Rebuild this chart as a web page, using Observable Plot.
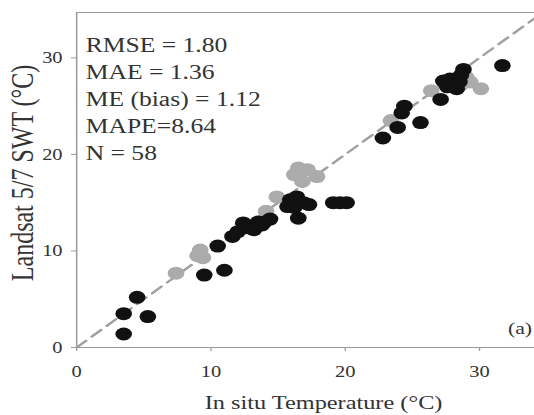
<!DOCTYPE html>
<html><head><meta charset="utf-8">
<script src="https://cdn.jsdelivr.net/npm/d3@7"></script>
<script src="https://cdn.jsdelivr.net/npm/@observablehq/plot@0.6"></script>
<style>
body{margin:0;background:#fff;overflow:hidden}
#chart svg{transform:scaleX(1.28);transform-origin:0 0;display:block;overflow:visible}
</style>
</head><body><div id="chart"></div>
<script>
// In situ temperature (x) vs Landsat SWT (y), black series
const blackX = [3.5, 3.5, 4.5, 5.3, 9.5, 11.0, 10.5, 11.6, 12.0, 12.4, 12.8, 13.2, 13.5, 13.8, 14.0, 14.4, 15.7, 15.9, 16.2, 16.4, 16.5, 16.9, 17.3, 19.1, 19.6, 20.1, 22.8, 23.9, 24.2, 24.4, 25.6, 27.1, 27.3, 27.6, 27.8, 28.0, 28.3, 28.5, 28.6, 28.8, 31.7];
const blackY = [1.4, 3.5, 5.2, 3.2, 7.5, 8.0, 10.5, 11.5, 12.0, 12.9, 12.4, 12.2, 13.0, 12.7, 13.0, 13.3, 14.6, 15.3, 14.5, 15.6, 13.4, 15.0, 14.8, 15.0, 15.0, 15.0, 21.7, 22.8, 24.3, 25.0, 23.3, 25.7, 27.6, 27.0, 27.8, 27.2, 26.8, 27.5, 28.2, 28.8, 29.2];
// grey series
const grayX = [7.4, 9.0, 9.2, 9.4, 14.1, 14.9, 16.2, 16.5, 16.8, 17.2, 17.9, 23.4, 26.4, 28.6, 29.0, 29.3, 30.1];
const grayY = [7.7, 9.5, 10.1, 9.3, 14.1, 15.6, 17.9, 18.6, 17.2, 18.4, 17.7, 23.5, 26.6, 27.2, 28.0, 27.5, 26.8];

const xTicks = [0, 10, 20, 30];
const yTicks = [0, 10, 20, 30];
const xDomain = [0, 34.1];
const yDomain = [0, 34.7];
const identityLine = [0, 35];
const stats = ["RMSE = 1.80", "MAE = 1.36", "ME (bias) = 1.12", "MAPE=8.64", "N = 58"];
const xLabel = "In situ Temperature (\u00B0C)";
const yLabel = "Landsat 5/7 SWT (\u00B0C)";
const panelLabel = "(a)";

const black = blackX.map((x, i) => ({x, y: blackY[i]}));
const gray = grayX.map((x, i) => ({x, y: grayY[i]}));

const font = "'Liberation Serif', 'Times New Roman', serif";
const txt = "#333";
const axisGray = "#9a9a9a";

const chart = Plot.plot({
  width: 417.2,
  height: 415,
  marginLeft: 59.4,
  marginRight: 0,
  marginTop: 12,
  marginBottom: 68,
  style: {fontFamily: font, fontSize: "16px", background: "#fff", color: txt},
  x: {domain: xDomain, axis: null},
  y: {domain: yDomain, axis: null},
  marks: [
    Plot.ruleX([xDomain[0]], {stroke: axisGray, strokeWidth: 1.2}),
    Plot.ruleY([yDomain[0]], {stroke: axisGray, strokeWidth: 1.2}),
    Plot.ruleY([yDomain[1]], {stroke: axisGray, strokeWidth: 1.2}),
    Plot.axisX({ticks: xTicks, tickSize: 4, tickPadding: 14, label: null, stroke: axisGray, fill: txt, fontSize: 16}),
    Plot.axisY({ticks: yTicks, tickSize: 4, tickPadding: 7, label: null, stroke: axisGray, fill: txt, fontSize: 16}),
    Plot.line(identityLine, {x: d => d, y: d => d, stroke: "#a0a0a0", strokeWidth: 2.2, strokeDasharray: "10,6", clip: true}),
    Plot.dot(gray, {x: "x", y: "y", r: 6.5, fill: "#ababab", stroke: "none"}),
    Plot.dot(black, {x: "x", y: "y", r: 6.5, fill: "#111", stroke: "none"}),
    Plot.text([stats.join("\n")], {frameAnchor: "top-left", textAnchor: "start", lineAnchor: "top", lineHeight: 1.35, dx: 7, dy: 20, fontSize: 20, fill: txt}),
    Plot.text([xLabel], {frameAnchor: "bottom", lineAnchor: "middle", dx: 14, dy: 55, fontSize: 19, fill: txt}),
    Plot.text([yLabel], {frameAnchor: "left", rotate: -90, lineAnchor: "middle", textAnchor: "middle", dx: -42, dy: -7, fontSize: 24, fill: txt}),
    Plot.text([panelLabel], {frameAnchor: "bottom-right", textAnchor: "end", lineAnchor: "middle", dx: -2, dy: -19, fontSize: 17, fill: txt})
  ]
});
document.getElementById("chart").appendChild(chart);
</script>
</body></html>
